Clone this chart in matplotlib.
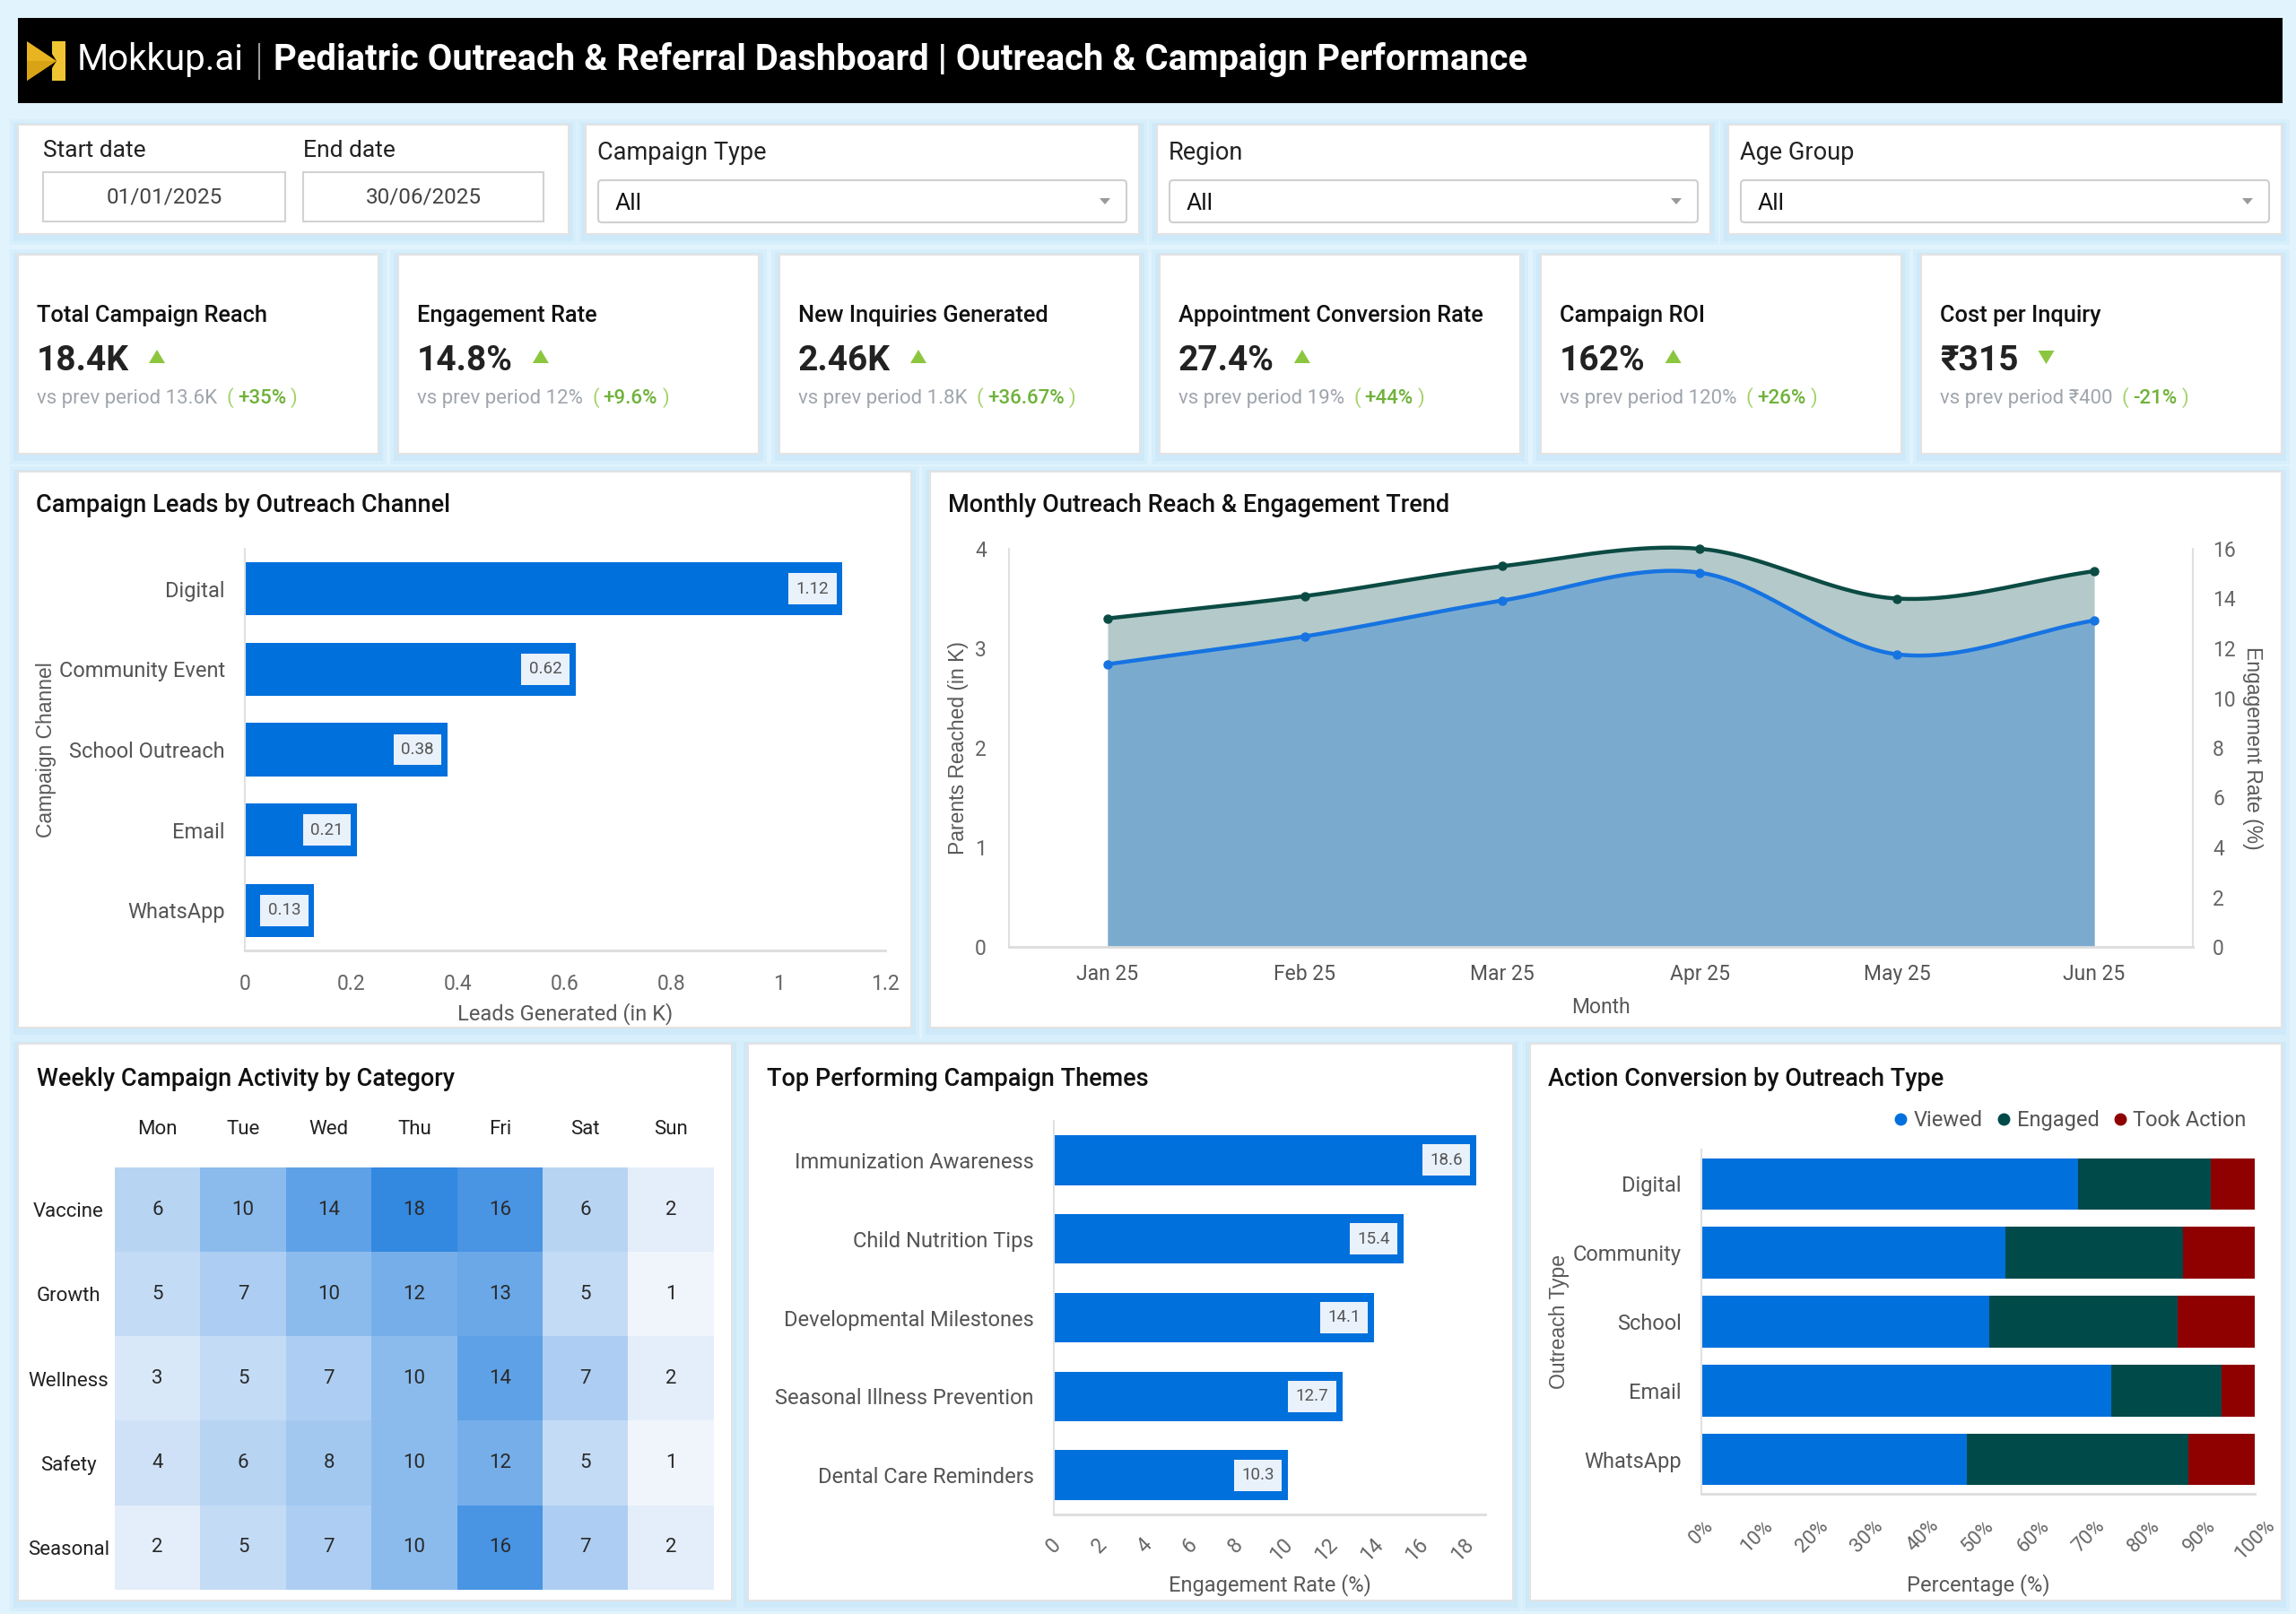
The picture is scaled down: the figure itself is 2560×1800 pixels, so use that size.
import matplotlib
matplotlib.use('Agg')
import matplotlib.pyplot as plt
import numpy as np
from matplotlib.patches import Rectangle, FancyBboxPatch, Polygon
from matplotlib.colors import LinearSegmentedColormap
from matplotlib.lines import Line2D

plt.rcParams['font.family'] = ['Roboto', 'DejaVu Sans']

# ---------------- data ----------------
kpi_titles = ["Total Campaign Reach", "Engagement Rate", "New Inquiries Generated",
              "Appointment Conversion Rate", "Campaign ROI", "Cost per Inquiry"]
kpi_values = ["18.4K", "14.8%", "2.46K", "27.4%", "162%", "₹315"]
kpi_prev = ["13.6K", "12%", "1.8K", "19%", "120%", "₹400"]
kpi_change = ["+35%", "+9.6%", "+36.67%", "+44%", "+26%", "-21%"]
kpi_up = [True, True, True, True, True, False]

channels = ["Digital", "Community Event", "School Outreach", "Email", "WhatsApp"]
leads_k = [1.12, 0.62, 0.38, 0.21, 0.13]

months = ["Jan 25", "Feb 25", "Mar 25", "Apr 25", "May 25", "Jun 25"]
parents_reached_k = [2.84, 3.12, 3.48, 3.76, 2.94, 3.28]
engagement_rate = [13.2, 14.1, 15.3, 16.0, 14.0, 15.1]

days = ["Mon", "Tue", "Wed", "Thu", "Fri", "Sat", "Sun"]
categories = ["Vaccine", "Growth", "Wellness", "Safety", "Seasonal"]
activity = [
    [6, 10, 14, 18, 16, 6, 2],
    [5, 7, 10, 12, 13, 5, 1],
    [3, 5, 7, 10, 14, 7, 2],
    [4, 6, 8, 10, 12, 5, 1],
    [2, 5, 7, 10, 16, 7, 2],
]

themes = ["Immunization Awareness", "Child Nutrition Tips", "Developmental Milestones",
          "Seasonal Illness Prevention", "Dental Care Reminders"]
theme_rates = [18.6, 15.4, 14.1, 12.7, 10.3]

outreach_types = ["Digital", "Community", "School", "Email", "WhatsApp"]
viewed = [68, 55, 52, 74, 48]
engaged = [24, 32, 34, 20, 40]
took_action = [8, 13, 14, 6, 12]

# ---------------- figure ----------------
W, H = 2560, 1800
fig = plt.figure(figsize=(25.6, 18), dpi=100)
fig.patch.set_facecolor('#e1f3fd')
bg = fig.add_axes([0, 0, 1, 1])
bg.set_xlim(0, W)
bg.set_ylim(H, 0)
bg.axis('off')
renderer = fig.canvas.get_renderer()

BLUE = '#0070dd'
GRAY_T = '#595959'


def add_ax(x0, y0, x1, y1):
    return fig.add_axes([x0 / W, 1 - y1 / H, (x1 - x0) / W, (y1 - y0) / H])


def panel(x0, y0, x1, y1):
    for pad, a in [(9, 0.35), (5, 0.5)]:
        bg.add_patch(Rectangle((x0 - pad, y0 - pad + 3), x1 - x0 + 2 * pad, y1 - y0 + 2 * pad,
                               facecolor='#c6e6f8', edgecolor='none', alpha=a))
    bg.add_patch(Rectangle((x0, y0), x1 - x0, y1 - y0, facecolor='white',
                           edgecolor='#e3e3e3', lw=1.5))


def text_end(t):
    return t.get_window_extent(renderer).x1


# ---------------- header ----------------
bg.add_patch(Rectangle((20, 20), 2525, 95, facecolor='black', edgecolor='none'))
bg.add_patch(Polygon([(30, 46), (63, 68), (30, 90)], closed=True, fc='#e8b420', ec='none'))
bg.add_patch(Polygon([(30, 68), (63, 68), (30, 90)], closed=True, fc='#d9a316', ec='none'))
bg.add_patch(Polygon([(58, 46), (73, 46), (73, 90), (58, 90), (58, 76), (63, 68), (58, 60)],
                     closed=True, fc='#f0c533', ec='none'))
bg.text(86, 78, "Mokkup.ai", color='white', fontsize=29, va='baseline', ha='left')
bg.plot([289, 289], [49, 88], color='#9a9a9a', lw=1.5)
bg.text(305, 78, "Pediatric Outreach & Referral Dashboard | Outreach & Campaign Performance",
        color='white', fontsize=28.8, fontweight='bold', va='baseline', ha='left')

# ---------------- filters ----------------
panel(20, 139, 634, 261)
bg.text(48, 175, "Start date", fontsize=19, color='#222222', va='baseline')
bg.text(338, 175, "End date", fontsize=19, color='#222222', va='baseline')
for (bx0, bx1, txt) in [(48, 318, "01/01/2025"), (338, 606, "30/06/2025")]:
    bg.add_patch(Rectangle((bx0, 192), bx1 - bx0, 55, facecolor='white', edgecolor='#d2d2d2', lw=1.5))
    bg.text((bx0 + bx1) / 2, 220, txt, fontsize=17.5, color='#444444', ha='center', va='center')

for (x0, x1, label) in [(653, 1270, "Campaign Type"), (1290, 1907, "Region"), (1927, 2544, "Age Group")]:
    panel(x0, 139, x1, 261)
    bg.text(x0 + 13, 178, label, fontsize=19.5, color='#222222', va='baseline')
    bg.add_patch(FancyBboxPatch((x0 + 14, 201), x1 - x0 - 28, 47,
                                boxstyle='round,pad=0,rounding_size=4',
                                facecolor='white', edgecolor='#cfcfcf', lw=1.5))
    bg.text(x0 + 33, 234, "All", fontsize=19, color='#111111', va='baseline')
    ax_ = x1 - 38
    bg.add_patch(Polygon([(ax_ - 6, 221), (ax_ + 6, 221), (ax_, 228)], closed=True,
                         fc='#9a9a9a', ec='none'))

# ---------------- KPI cards ----------------
card_x = [20, 444, 869, 1293, 1718, 2142]
for i, x0 in enumerate(card_x):
    panel(x0, 284, x0 + 402, 506)
    tx = x0 + 21
    bg.text(tx, 359, kpi_titles[i], fontsize=18.3, fontweight=500, color='#111111', va='baseline')
    vt = bg.text(tx, 413, kpi_values[i], fontsize=28, fontweight='bold', color='#222222',
                 va='baseline')
    xe = text_end(vt) + 22
    if kpi_up[i]:
        tri = [(xe, 405), (xe + 18, 405), (xe + 9, 390)]
    else:
        tri = [(xe, 391), (xe + 18, 391), (xe + 9, 406)]
    bg.add_patch(Polygon(tri, closed=True, fc='#8cc63f', ec='none'))
    st = bg.text(tx, 450, "vs prev period " + kpi_prev[i], fontsize=16, color='#a0a5ad',
                 va='baseline')
    xs = text_end(st) + 10
    p1 = bg.text(xs, 450, "(", fontsize=16, color='#a6d16a', va='baseline')
    xs = text_end(p1) + 5
    c = bg.text(xs, 450, kpi_change[i], fontsize=16, fontweight=500, color='#6fb23a',
                va='baseline')
    xs = text_end(c) + 5
    bg.text(xs, 450, ")", fontsize=16, color='#a6d16a', va='baseline')

# ---------------- chart panels ----------------
panel(20, 526, 1016, 1146)
panel(1037, 526, 2544, 1146)
panel(20, 1164, 816, 1785)
panel(834, 1164, 1687, 1785)
panel(1706, 1164, 2544, 1785)

title_kw = dict(fontsize=19.5, fontweight=500, color='#111111', va='baseline')
bg.text(40, 571, "Campaign Leads by Outreach Channel", **title_kw)
bg.text(1057, 571, "Monthly Outreach Reach & Engagement Trend", **title_kw)
bg.text(41, 1211, "Weekly Campaign Activity by Category", **title_kw)
bg.text(855, 1211, "Top Performing Campaign Themes", **title_kw)
bg.text(1726, 1211, "Action Conversion by Outreach Type", **title_kw)


def style_axes(ax, left=True, bottom=True, right=False):
    for s in ['top', 'right', 'left', 'bottom']:
        ax.spines[s].set_visible(False)
    if left:
        ax.spines['left'].set_visible(True)
        ax.spines['left'].set_color('#e0e0e0')
        ax.spines['left'].set_linewidth(1.5)
    if bottom:
        ax.spines['bottom'].set_visible(True)
        ax.spines['bottom'].set_color('#dddddd')
        ax.spines['bottom'].set_linewidth(2)
    if right:
        ax.spines['right'].set_visible(True)
        ax.spines['right'].set_color('#e0e0e0')
        ax.spines['right'].set_linewidth(1.5)
    ax.tick_params(length=0)
    ax.set_facecolor('none')


def place_labels(ax, box, xlabel_y=None, ylabel_x=None):
    x0, y0, x1, y1 = box
    if xlabel_y is not None:
        ax.xaxis.set_label_coords(0.5, (y1 - xlabel_y) / (y1 - y0))
    if ylabel_x is not None:
        ax.yaxis.set_label_coords((ylabel_x - x0) / (x1 - x0), 0.5)


label_box = dict(boxstyle='square,pad=0.45', fc='#e9f1fb', ec='none')

# ---- Chart 1: leads by channel ----
b1 = (273, 612, 987, 1060)
ax1 = add_ax(*b1)
y = np.arange(len(channels))
ax1.barh(y, leads_k, height=0.66, color=BLUE)
ax1.set_ylim(len(channels) - 0.5, -0.5)
ax1.set_xlim(0, 1.2)
ax1.set_xticks([0, 0.2, 0.4, 0.6, 0.8, 1.0, 1.2])
ax1.set_xticklabels(['0', '0.2', '0.4', '0.6', '0.8', '1', '1.2'])
ax1.set_yticks(y)
ax1.set_yticklabels(channels)
style_axes(ax1)
ax1.tick_params(axis='y', labelsize=17, labelcolor='#555555', pad=16)
ax1.tick_params(axis='x', labelsize=16.5, labelcolor='#666666', pad=19)
for v, yy in zip(leads_k, y):
    ax1.annotate(f"{v:.2f}", (v, yy), xytext=(-11, 0), textcoords='offset points',
                 ha='right', va='center', fontsize=13.5, color='#555555', bbox=label_box)
ax1.set_xlabel("Leads Generated (in K)", fontsize=17, color=GRAY_T, va='center')
ax1.set_ylabel("Campaign Channel", fontsize=16.5, color=GRAY_T, va='center',
               family=['Liberation Sans', 'DejaVu Sans'])
place_labels(ax1, b1, xlabel_y=1131, ylabel_x=52)


# ---- Chart 2: monthly trend ----
def smooth(xv, yv, n=40):
    xv = np.asarray(xv, float)
    yv = np.asarray(yv, float)
    xs_out, ys_out = [], []
    m = len(xv)
    for i in range(m - 1):
        p0 = yv[i - 1] if i > 0 else yv[i]
        p1, p2 = yv[i], yv[i + 1]
        p3 = yv[i + 2] if i + 2 < m else yv[i + 1]
        m1 = (p2 - p0) / (2 if i > 0 else 1)
        m2 = (p3 - p1) / (2 if i + 2 < m else 1)
        t = np.linspace(0, 1, n, endpoint=(i == m - 2))
        h00 = 2 * t ** 3 - 3 * t ** 2 + 1
        h10 = t ** 3 - 2 * t ** 2 + t
        h01 = -2 * t ** 3 + 3 * t ** 2
        h11 = t ** 3 - t ** 2
        ys_out.append(h00 * p1 + h10 * m1 + h01 * p2 + h11 * m2)
        xs_out.append(xv[i] + t * (xv[i + 1] - xv[i]))
    return np.concatenate(xs_out), np.concatenate(ys_out)


b2 = (1125, 612, 2445, 1056)
ax2 = add_ax(*b2)
ax2r = ax2.twinx()
ax2.set_zorder(ax2r.get_zorder() + 1)
ax2.patch.set_visible(False)
xm = np.arange(len(months))
sx, se = smooth(xm, engagement_rate)
ax2r.fill_between(sx, se, 0, color='#b4c9c9', lw=0, clip_on=False)
ax2r.plot(sx, se, color='#0b4b43', lw=3.2, clip_on=False)
ax2r.plot(xm, engagement_rate, 'o', color='#0b4b43', ms=6.5, clip_on=False)
sx, sr = smooth(xm, parents_reached_k)
ax2.fill_between(sx, sr, 0, color='#7aabcf', lw=0)
ax2.plot(sx, sr, color='#1673e2', lw=3.2)
ax2.plot(xm, parents_reached_k, 'o', color='#1673e2', ms=6.5)
ax2.set_xlim(-0.5, len(months) - 0.5)
ax2.set_ylim(0, 4)
ax2r.set_ylim(0, 16)
ax2.set_yticks([0, 1, 2, 3, 4])
ax2r.set_yticks(np.arange(0, 17, 2))
ax2.set_xticks(xm)
ax2.set_xticklabels(months)
style_axes(ax2, left=True, bottom=True)
style_axes(ax2r, left=False, bottom=False, right=True)
ax2.tick_params(axis='y', labelsize=16.5, labelcolor='#666666', pad=18)
ax2r.tick_params(axis='y', labelsize=16.5, labelcolor='#666666', pad=16)
ax2.tick_params(axis='x', labelsize=16.5, labelcolor='#555555', pad=14)
ax2.set_xlabel("Month", fontsize=16.5, color=GRAY_T, va='center')
ax2.set_ylabel("Parents Reached (in K)", fontsize=16.5, color=GRAY_T, va='center',
               family=['Liberation Sans', 'DejaVu Sans'])
ax2r.set_ylabel("Engagement Rate (%)", fontsize=16.5, color=GRAY_T, va='center',
                rotation=270, family=['Liberation Sans', 'DejaVu Sans'])
place_labels(ax2, b2, xlabel_y=1123, ylabel_x=1069)
ax2r.yaxis.set_label_coords((2511 - b2[0]) / (b2[2] - b2[0]), 0.5)

# ---- Chart 3: heatmap ----
b3 = (128, 1302, 796, 1773)
ax3 = add_ax(*b3)
cmap = LinearSegmentedColormap.from_list('hm', ['#f0f5fc', '#3388e0'])
arr = np.array(activity)
ax3.imshow(arr, cmap=cmap, vmin=1, vmax=18, aspect='auto', interpolation='nearest')
for r in range(arr.shape[0]):
    for c in range(arr.shape[1]):
        ax3.text(c, r, str(arr[r, c]), ha='center', va='center', fontsize=16, color='#2a2a2a')
ax3.set_xticks(np.arange(len(days)))
ax3.set_xticklabels(days)
ax3.set_yticks(np.arange(len(categories)))
ax3.set_yticklabels(categories, ha='center')
ax3.xaxis.tick_top()
for s in ax3.spines.values():
    s.set_visible(False)
ax3.tick_params(length=0)
ax3.tick_params(axis='x', labelsize=16, labelcolor='#222222', pad=23)
ax3.tick_params(axis='y', labelsize=16, labelcolor='#222222', pad=37)

# ---- Chart 4: themes ----
b4 = (1175, 1250, 1656, 1689)
ax4 = add_ax(*b4)
yt = np.arange(len(themes))
ax4.barh(yt, theme_rates, height=0.63, color=BLUE)
ax4.set_ylim(len(themes) - 0.5, -0.5)
ax4.set_xlim(0, 19)
ax4.set_xticks(np.arange(0, 19, 2))
ax4.set_yticks(yt)
ax4.set_yticklabels(themes)
style_axes(ax4)
ax4.tick_params(axis='y', labelsize=17, labelcolor='#555555', pad=16)
ax4.tick_params(axis='x', labelsize=16.5, labelcolor='#666666', pad=16)
for lab in ax4.get_xticklabels():
    lab.set_rotation(45)
    lab.set_ha('center')
for v, yy in zip(theme_rates, yt):
    ax4.annotate(f"{v:.1f}", (v, yy), xytext=(-11, 0), textcoords='offset points',
                 ha='right', va='center', fontsize=13.5, color='#555555', bbox=label_box)
ax4.set_xlabel("Engagement Rate (%)", fontsize=17, color=GRAY_T, va='center')
place_labels(ax4, b4, xlabel_y=1768)

# ---- Chart 5: stacked conversion ----
b5 = (1897, 1282, 2514, 1666)
ax5 = add_ax(*b5)
yo = np.arange(len(outreach_types))
C_V, C_E, C_A = BLUE, '#004a4a', '#8f0000'
ax5.barh(yo, viewed, height=0.75, color=C_V, label='Viewed')
ax5.barh(yo, engaged, left=viewed, height=0.75, color=C_E, label='Engaged')
ax5.barh(yo, took_action, left=np.array(viewed) + np.array(engaged), height=0.75,
         color=C_A, label='Took Action')
ax5.set_ylim(len(outreach_types) - 0.5, -0.5)
ax5.set_xlim(0, 100)
ax5.set_xticks(np.arange(0, 101, 10))
ax5.set_xticklabels([f"{v}%" for v in range(0, 101, 10)])
ax5.set_yticks(yo)
ax5.set_yticklabels(outreach_types)
style_axes(ax5)
ax5.tick_params(axis='y', labelsize=17, labelcolor='#555555', pad=16)
ax5.tick_params(axis='x', labelsize=16, labelcolor='#666666', pad=18)
for lab in ax5.get_xticklabels():
    lab.set_rotation(45)
    lab.set_ha('center')
ax5.set_xlabel("Percentage (%)", fontsize=17, color=GRAY_T, va='center')
ax5.set_ylabel("Outreach Type", fontsize=16.5, color=GRAY_T, va='center',
               family=['Liberation Sans', 'DejaVu Sans'])
place_labels(ax5, b5, xlabel_y=1768, ylabel_x=1738)
handles = [Line2D([], [], marker='o', ls='none', color=c, ms=9) for c in (C_V, C_E, C_A)]
leg = ax5.legend(handles, ['Viewed', 'Engaged', 'Took Action'], loc='lower right',
                 bbox_to_anchor=(1.0, 1.03), ncol=3, frameon=False, fontsize=17,
                 handletextpad=0.1, columnspacing=0.5, handlelength=1.0, borderaxespad=0)
for t in leg.get_texts():
    t.set_color('#555555')

fig.savefig('out.png', dpi=100, facecolor=fig.get_facecolor())
